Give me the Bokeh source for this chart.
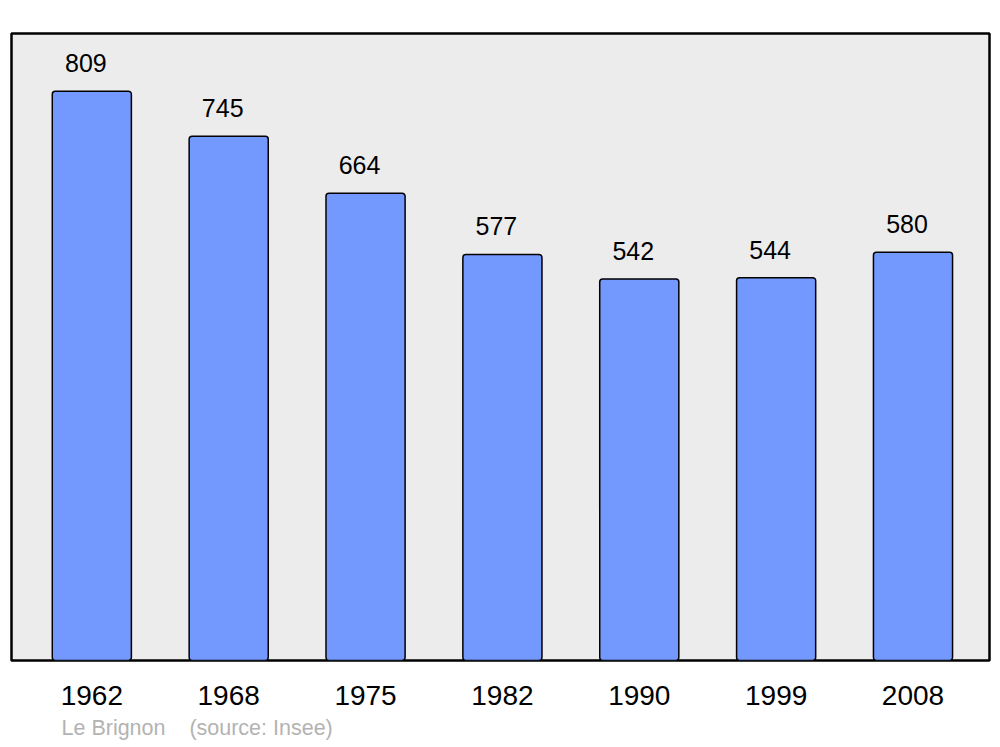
from bokeh.plotting import figure
from bokeh.models import ColumnDataSource, FixedTicker, Range1d, Title
from bokeh.core.properties import value
from bokeh.embed import file_html
from bokeh.resources import INLINE

years = ["1962", "1968", "1975", "1982", "1990", "1999", "2008"]
population = [809, 745, 664, 577, 542, 544, 580]
commune = "Le Brignon"
source_note = "(source: Insee)"

idx = list(range(len(years)))
src = ColumnDataSource(dict(x=idx, top=population, label=[str(v) for v in population]))

p = figure(width=1000, height=747, output_backend="svg", toolbar_location=None,
           x_range=Range1d(-0.587, 6.559), y_range=Range1d(0, 891),
           min_border_left=11, min_border_right=11, min_border_top=33, min_border_bottom=87)
p.background_fill_color = "#ececec"
p.border_fill_color = "white"
p.outline_line_color = "black"
p.outline_line_width = 2.5
p.xgrid.visible = False
p.ygrid.visible = False
p.yaxis.visible = False

p.vbar(x="x", top="top", bottom=0, width=0.578, source=src,
       fill_color="#7399ff", line_color="black", line_width=1.5, border_radius=3)

p.text(x="x", y="top", text="label", source=src, x_offset=-6, y_offset=-28,
       text_align="center", text_baseline="alphabetic",
       text_font=value("Liberation Sans"), text_font_size="25px", text_color="black")

ax = p.xaxis[0]
ax.ticker = FixedTicker(ticks=idx)
ax.major_label_overrides = {i: y for i, y in zip(idx, years)}
ax.axis_line_color = None
ax.major_tick_line_color = None
ax.minor_tick_line_color = None
ax.major_label_standoff = 19
ax.major_label_text_font = "Liberation Sans"
ax.major_label_text_font_size = "28px"
ax.major_label_text_color = "black"

caption = commune + "\u00a0\u00a0\u00a0\u00a0" + source_note
p.add_layout(Title(text=caption, align="left", offset=50, standoff=12,
                   text_font="Liberation Sans", text_font_size="21.5px",
                   text_font_style="normal", text_color="#b3b3b3"), "below")

open("out.html", "w").write(file_html(p, INLINE))
